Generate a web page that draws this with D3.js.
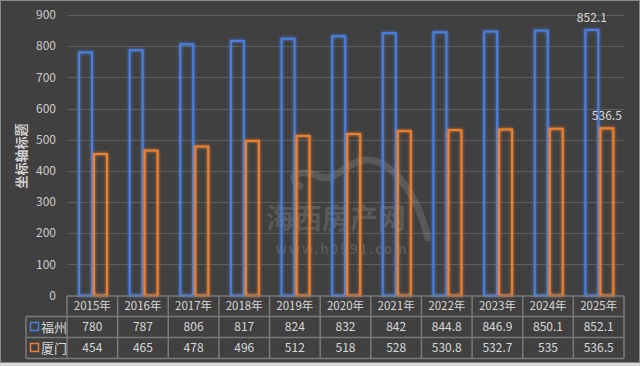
<!DOCTYPE html>
<html>
<head>
<meta charset="utf-8">
<script src="https://cdn.jsdelivr.net/npm/d3@7"></script>
<style>
  body { margin: 0; background: #d9d9d9; }
  svg text { font-family: "Noto Sans CJK SC", "Noto Sans", sans-serif; }
</style>
</head>
<body>
<script>
// chart values
var years = ["2015年", "2016年", "2017年", "2018年", "2019年", "2020年",
             "2021年", "2022年", "2023年", "2024年", "2025年"];
var seriesNames = ["福州", "厦门"];
var fuzhou = [780, 787, 806, 817, 824, 832, 842, 844.8, 846.9, 850.1, 852.1];
var xiamen = [454, 465, 478, 496, 512, 518, 528, 530.8, 532.7, 535, 536.5];
var yTicks = [0, 100, 200, 300, 400, 500, 600, 700, 800, 900];
var yTitle = "坐标轴标题";

var width = 640, height = 366;
var plot = {left: 67, right: 624, top: 15, bottom: 295.5};
var colors = ["#4a7fe0", "#f0802e"];
var values = [fuzhou, xiamen];

var svg = d3.select("body")
    .append("svg")
    .attr("width", width)
    .attr("height", height);

// glow for the outlined bars
var defs = svg.append("defs");
var glow = defs.append("filter")
    .attr("id", "glow")
    .attr("x", "-50%").attr("y", "-10%")
    .attr("width", "200%").attr("height", "120%");
glow.append("feGaussianBlur")
    .attr("in", "SourceGraphic")
    .attr("stdDeviation", 1.6)
    .attr("result", "blur");
var merge = glow.append("feMerge");
merge.append("feMergeNode").attr("in", "blur");
merge.append("feMergeNode").attr("in", "SourceGraphic");

// background panel
svg.append("rect")
    .attr("x", 0.5).attr("y", 0.5)
    .attr("width", 639).attr("height", 362)
    .attr("fill", "#404040")
    .attr("stroke", "#8c8c8c");

var x = d3.scaleBand()
    .domain(years)
    .range([plot.left, plot.right]);

var xs = d3.scaleBand()
    .domain(seriesNames)
    .range([11, 41]);

var y = d3.scaleLinear()
    .domain([0, 900])
    .range([plot.bottom, plot.top]);

// gridlines
svg.append("g")
    .selectAll("line")
    .data(yTicks.slice(1))
    .enter().append("line")
    .attr("x1", plot.left)
    .attr("x2", plot.right)
    .attr("y1", function(d) { return Math.round(y(d)) + 0.5; })
    .attr("y2", function(d) { return Math.round(y(d)) + 0.5; })
    .attr("stroke", "#5e5e5e")
    .attr("stroke-width", 1);

// y tick labels
svg.append("g")
    .selectAll("text")
    .data(yTicks)
    .enter().append("text")
    .attr("x", 56)
    .attr("y", function(d) { return y(d); })
    .attr("dy", "0.35em")
    .attr("text-anchor", "end")
    .attr("fill", "#cccccc")
    .style("font-size", "12px")
    .text(function(d) { return d; });

// y axis title
svg.append("text")
    .attr("transform", "translate(26,156) rotate(-90)")
    .attr("text-anchor", "middle")
    .attr("fill", "#d0d0d0")
    .style("font-size", "13px")
    .style("font-weight", "bold")
    .text(yTitle);

// watermark
var wm = svg.append("g").attr("opacity", 0.13);
wm.append("path")
    .attr("d", "M300,186 C285,176 300,168 318,176 C335,184 345,162 365,160 " +
               "C392,158 418,196 428,238")
    .attr("fill", "none")
    .attr("stroke", "#ffffff")
    .attr("stroke-width", 7)
    .attr("stroke-linecap", "round");
wm.append("text")
    .attr("x", 336).attr("y", 229)
    .attr("text-anchor", "middle")
    .attr("fill", "#ffffff")
    .style("font-size", "28px")
    .style("font-weight", "bold")
    .text("海西房产网");
wm.append("text")
    .attr("x", 342).attr("y", 254)
    .attr("text-anchor", "middle")
    .attr("fill", "#ffffff")
    .style("font-size", "13px")
    .style("letter-spacing", "2px")
    .style("font-weight", "bold")
    .text("www.h0591.com");

// bars
seriesNames.forEach(function(name, si) {
    svg.append("g")
        .attr("filter", "url(#glow)")
        .selectAll("rect")
        .data(values[si])
        .enter().append("rect")
        .attr("x", function(d, i) { return x(years[i]) + xs(name) + 1; })
        .attr("y", function(d) { return y(d); })
        .attr("width", xs.bandwidth() - 2)
        .attr("height", function(d) { return y(0) - y(d); })
        .attr("fill", "none")
        .attr("stroke", colors[si])
        .attr("stroke-width", 2);
});

// value labels on the last category
var last = years.length - 1;
seriesNames.forEach(function(name, si) {
    svg.append("text")
        .attr("x", x(years[last]) + xs(name) + xs.bandwidth() / 2)
        .attr("y", y(values[si][last]) - 8)
        .attr("text-anchor", "middle")
        .attr("fill", "#d9d9d9")
        .style("font-size", "12px")
        .text(values[si][last]);
});

// data table
var rowTop = 296, rowH = [20.5, 21, 21];
var rowY = [rowTop, rowTop + rowH[0], rowTop + rowH[0] + rowH[1]];
var tableBottom = rowY[2] + rowH[2];
var legendLeft = 26;
var grid = svg.append("g")
    .attr("stroke", "#7a7a7a")
    .attr("stroke-width", 1.5)
    .attr("fill", "none");

// horizontal lines
grid.append("line")
    .attr("x1", plot.left).attr("x2", plot.right)
    .attr("y1", rowY[0]).attr("y2", rowY[0]);
[rowY[1], rowY[2], tableBottom].forEach(function(yy) {
    grid.append("line")
        .attr("x1", legendLeft).attr("x2", plot.right)
        .attr("y1", yy).attr("y2", yy);
});

// vertical lines
grid.selectAll("line.v")
    .data(years.concat(["end"]))
    .enter().append("line")
    .attr("x1", function(d, i) { return plot.left + i * x.step(); })
    .attr("x2", function(d, i) { return plot.left + i * x.step(); })
    .attr("y1", rowY[0])
    .attr("y2", tableBottom);
grid.append("line")
    .attr("x1", legendLeft).attr("x2", legendLeft)
    .attr("y1", rowY[1]).attr("y2", tableBottom);

// header row
svg.append("g")
    .selectAll("text")
    .data(years)
    .enter().append("text")
    .attr("x", function(d) { return x(d) + x.bandwidth() / 2; })
    .attr("y", rowY[0] + rowH[0] / 2)
    .attr("dy", "0.36em")
    .attr("text-anchor", "middle")
    .attr("fill", "#d9d9d9")
    .style("font-size", "11.5px")
    .text(function(d) { return d; });

// value rows with legend keys
seriesNames.forEach(function(name, si) {
    var cy = rowY[si + 1] + rowH[si + 1] / 2;
    svg.append("rect")
        .attr("x", 30.5).attr("y", cy - 4.5)
        .attr("width", 8).attr("height", 8)
        .attr("fill", "none")
        .attr("stroke", colors[si])
        .attr("stroke-width", 1.5);
    svg.append("text")
        .attr("x", 41)
        .attr("y", cy)
        .attr("dy", "0.36em")
        .attr("fill", "#d9d9d9")
        .style("font-size", "13px")
        .text(name);
    svg.append("g")
        .selectAll("text")
        .data(values[si])
        .enter().append("text")
        .attr("x", function(d, i) { return x(years[i]) + x.bandwidth() / 2; })
        .attr("y", cy)
        .attr("dy", "0.36em")
        .attr("text-anchor", "middle")
        .attr("fill", "#d9d9d9")
        .style("font-size", "12px")
        .text(function(d) { return d; });
});
</script>
</body>
</html>
